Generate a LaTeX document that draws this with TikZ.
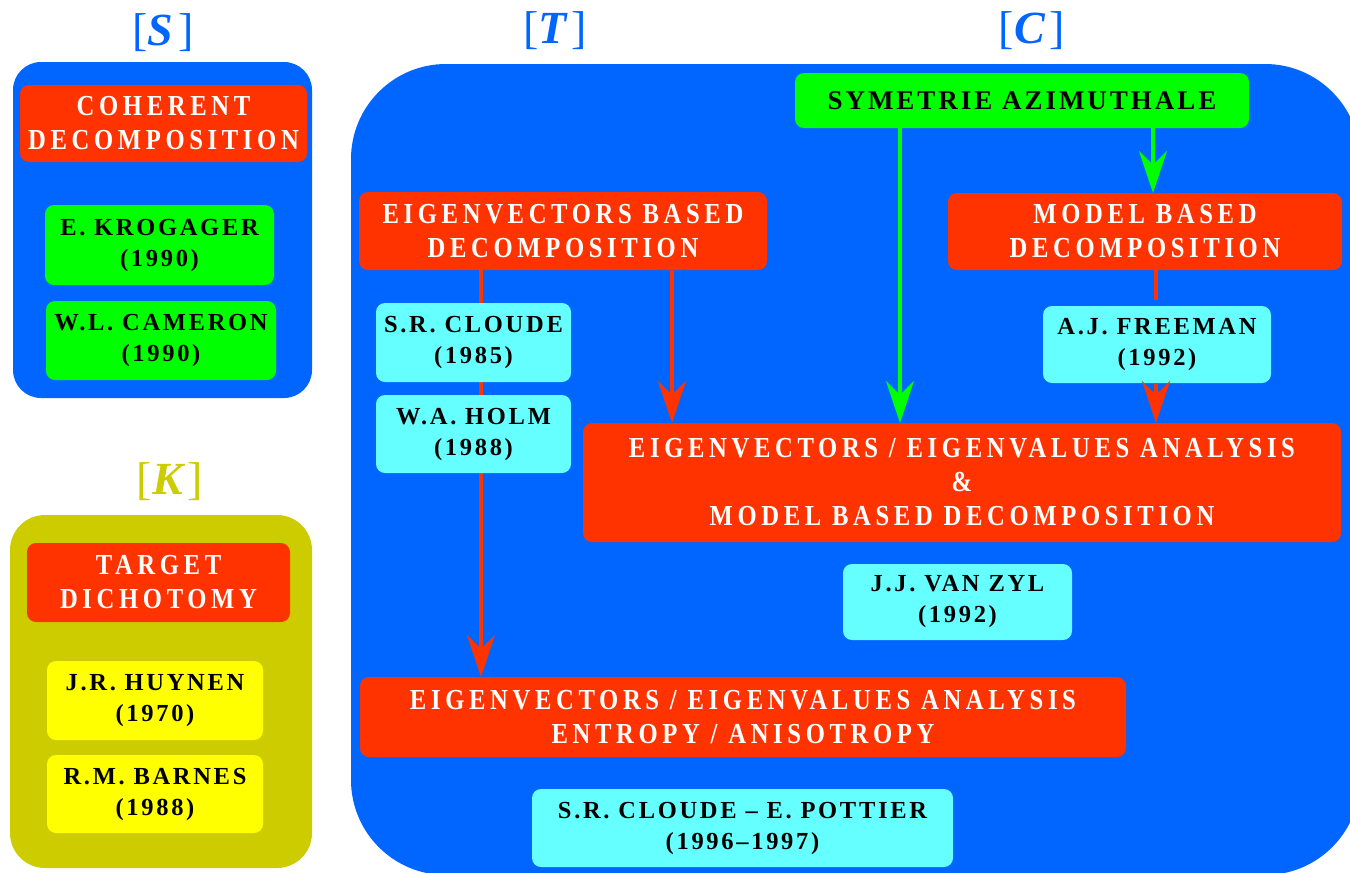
\documentclass[tikz,border=0pt]{standalone}
\usepackage{fontspec}
\setmainfont{Liberation Serif}
\newfontfamily\hfont{Liberation Serif}[FakeStretch=0.85,LetterSpace=16]
\newfontfamily\nfont{Liberation Serif}[LetterSpace=11]
\usetikzlibrary{arrows.meta}
\definecolor{pblue}{HTML}{0066FF}
\definecolor{hred}{HTML}{FF3300}
\definecolor{hgreen}{HTML}{00FF00}
\definecolor{hcyan}{HTML}{66FFFF}
\definecolor{hyellow}{HTML}{FFFF00}
\definecolor{holive}{HTML}{CCCC00}
\tikzset{
  panel/.style={inner sep=0pt, outer sep=0pt},
  hdr/.style={fill=hred, rounded corners=9pt, text=white, inner sep=0pt, outer sep=0pt,
    font=\hfont\bfseries\fontsize{29}{34}\selectfont, align=center},
  auth/.style={rounded corners=9pt, text=black, inner sep=0pt, outer sep=0pt,
    font=\nfont\bfseries\fontsize{24.5}{31}\selectfont, align=center},
  lbl/.style={inner sep=0pt, font=\fontsize{46}{46}\selectfont},
  redarr/.style={draw=hred, line width=3.5pt, -{Stealth[length=42pt,width=28pt,inset=14pt]}},
  grnarr/.style={draw=hgreen, line width=3.5pt, -{Stealth[length=42pt,width=28pt,inset=14pt]}},
  redline/.style={draw=hred, line width=3.5pt}
}
\begin{document}
\begin{tikzpicture}[x=1pt,y=-1pt]
\path[use as bounding box, fill=white] (0,0) rectangle (1350,873);

% labels
\node[lbl, text=pblue] (Sl) at (163,33) {[{\bfseries\itshape S}\hspace{5pt}]};
\node[lbl, text=pblue] (Tl) at (555,31) {[{\bfseries\itshape T}\hspace{5pt}]};
\node[lbl, text=pblue] (Cl) at (1032,31) {[{\bfseries\itshape C}\hspace{5pt}]};
\node[lbl, text=holive] (Kl) at (170,482) {[{\bfseries\itshape K}\hspace{5pt}]};

% S panel
\node[panel, fill=pblue, rounded corners=28pt, minimum width=299pt, minimum height=336pt] (S) at (162.5,230) {};
\node[hdr, minimum width=287pt, minimum height=77pt] (coh) at (163.5,123.5) {COHERENT\\DECOMPOSITION};
\node[auth, fill=hgreen, minimum width=229pt, minimum height=80pt] (krog) at (159.5,245) {E. KROGAGER\\(1990)};
\node[auth, fill=hgreen, minimum width=230pt, minimum height=79pt] (cam) at (161,340.5) {W.L. CAMERON\\(1990)};

% K panel
\node[panel, fill=holive, rounded corners=35pt, minimum width=302pt, minimum height=353pt] (K) at (161,691.5) {};
\node[hdr, minimum width=263pt, minimum height=79pt] (targ) at (158.5,582.5) {TARGET\\DICHOTOMY};
\node[auth, fill=hyellow, minimum width=216pt, minimum height=79pt] (huy) at (155,700.5) {J.R. HUYNEN\\(1970)};
\node[auth, fill=hyellow, minimum width=216pt, minimum height=78pt] (barn) at (155,794) {R.M. BARNES\\(1988)};

% T / C panel
\begin{scope}
\clip (0,0) rectangle (1350,873);
\node[panel, fill=pblue, rounded corners=95pt, minimum width=1009pt, minimum height=811pt] (T) at (855.5,469.5) {};
\end{scope}

% connectors passing behind boxes
\draw[redarr] (481,270) coordinate (a1) -- (481,677) coordinate (a2);
\draw[redline] (1156,270) -- (1156,300);

\node[auth, fill=hgreen, font=\nfont\bfseries\fontsize{27}{31}\selectfont, minimum width=454pt, minimum height=55pt] (sym) at (1022,100.5) {SYMETRIE AZIMUTHALE};
\node[hdr, minimum width=408pt, minimum height=78pt] (eigb) at (563,231) {EIGENVECTORS BASED\\DECOMPOSITION};
\node[hdr, minimum width=394pt, minimum height=77pt] (model) at (1145,231.5) {MODEL BASED\\DECOMPOSITION};
\node[auth, fill=hcyan, minimum width=195pt, minimum height=79pt] (cloude) at (473.5,342.5) {S.R. CLOUDE\\(1985)};
\node[auth, fill=hcyan, minimum width=195pt, minimum height=78pt] (holm) at (473.5,434) {W.A. HOLM\\(1988)};
\node[auth, fill=hcyan, minimum width=228pt, minimum height=77pt] (free) at (1157,344.5) {A.J. FREEMAN\\(1992)};
\node[hdr, minimum width=758pt, minimum height=119pt] (comb) at (962,482.5) {EIGENVECTORS / EIGENVALUES ANALYSIS\\\&\\MODEL BASED DECOMPOSITION};
\node[auth, fill=hcyan, minimum width=229pt, minimum height=76pt] (vz) at (957.5,602) {J.J. VAN ZYL\\(1992)};
\node[hdr, minimum width=766pt, minimum height=80pt] (entr) at (743,717) {EIGENVECTORS / EIGENVALUES ANALYSIS\\ENTROPY / ANISOTROPY};
\node[auth, fill=hcyan, minimum width=421pt, minimum height=78pt] (pott) at (742.5,828) {S.R. CLOUDE – E. POTTIER\\(1996–1997)};

\draw[redarr] (eigb.south -| 672,0) -- (comb.north -| 672,0);
\draw[grnarr] (sym.south -| 900,0) -- (comb.north -| 900,0);
\draw[grnarr] (sym.south -| 1153,0) -- (model.north -| 1153,0);
\draw[redarr] (free.south -| 1156,0) -- (comb.north -| 1156,0);
\end{tikzpicture}
\end{document}
